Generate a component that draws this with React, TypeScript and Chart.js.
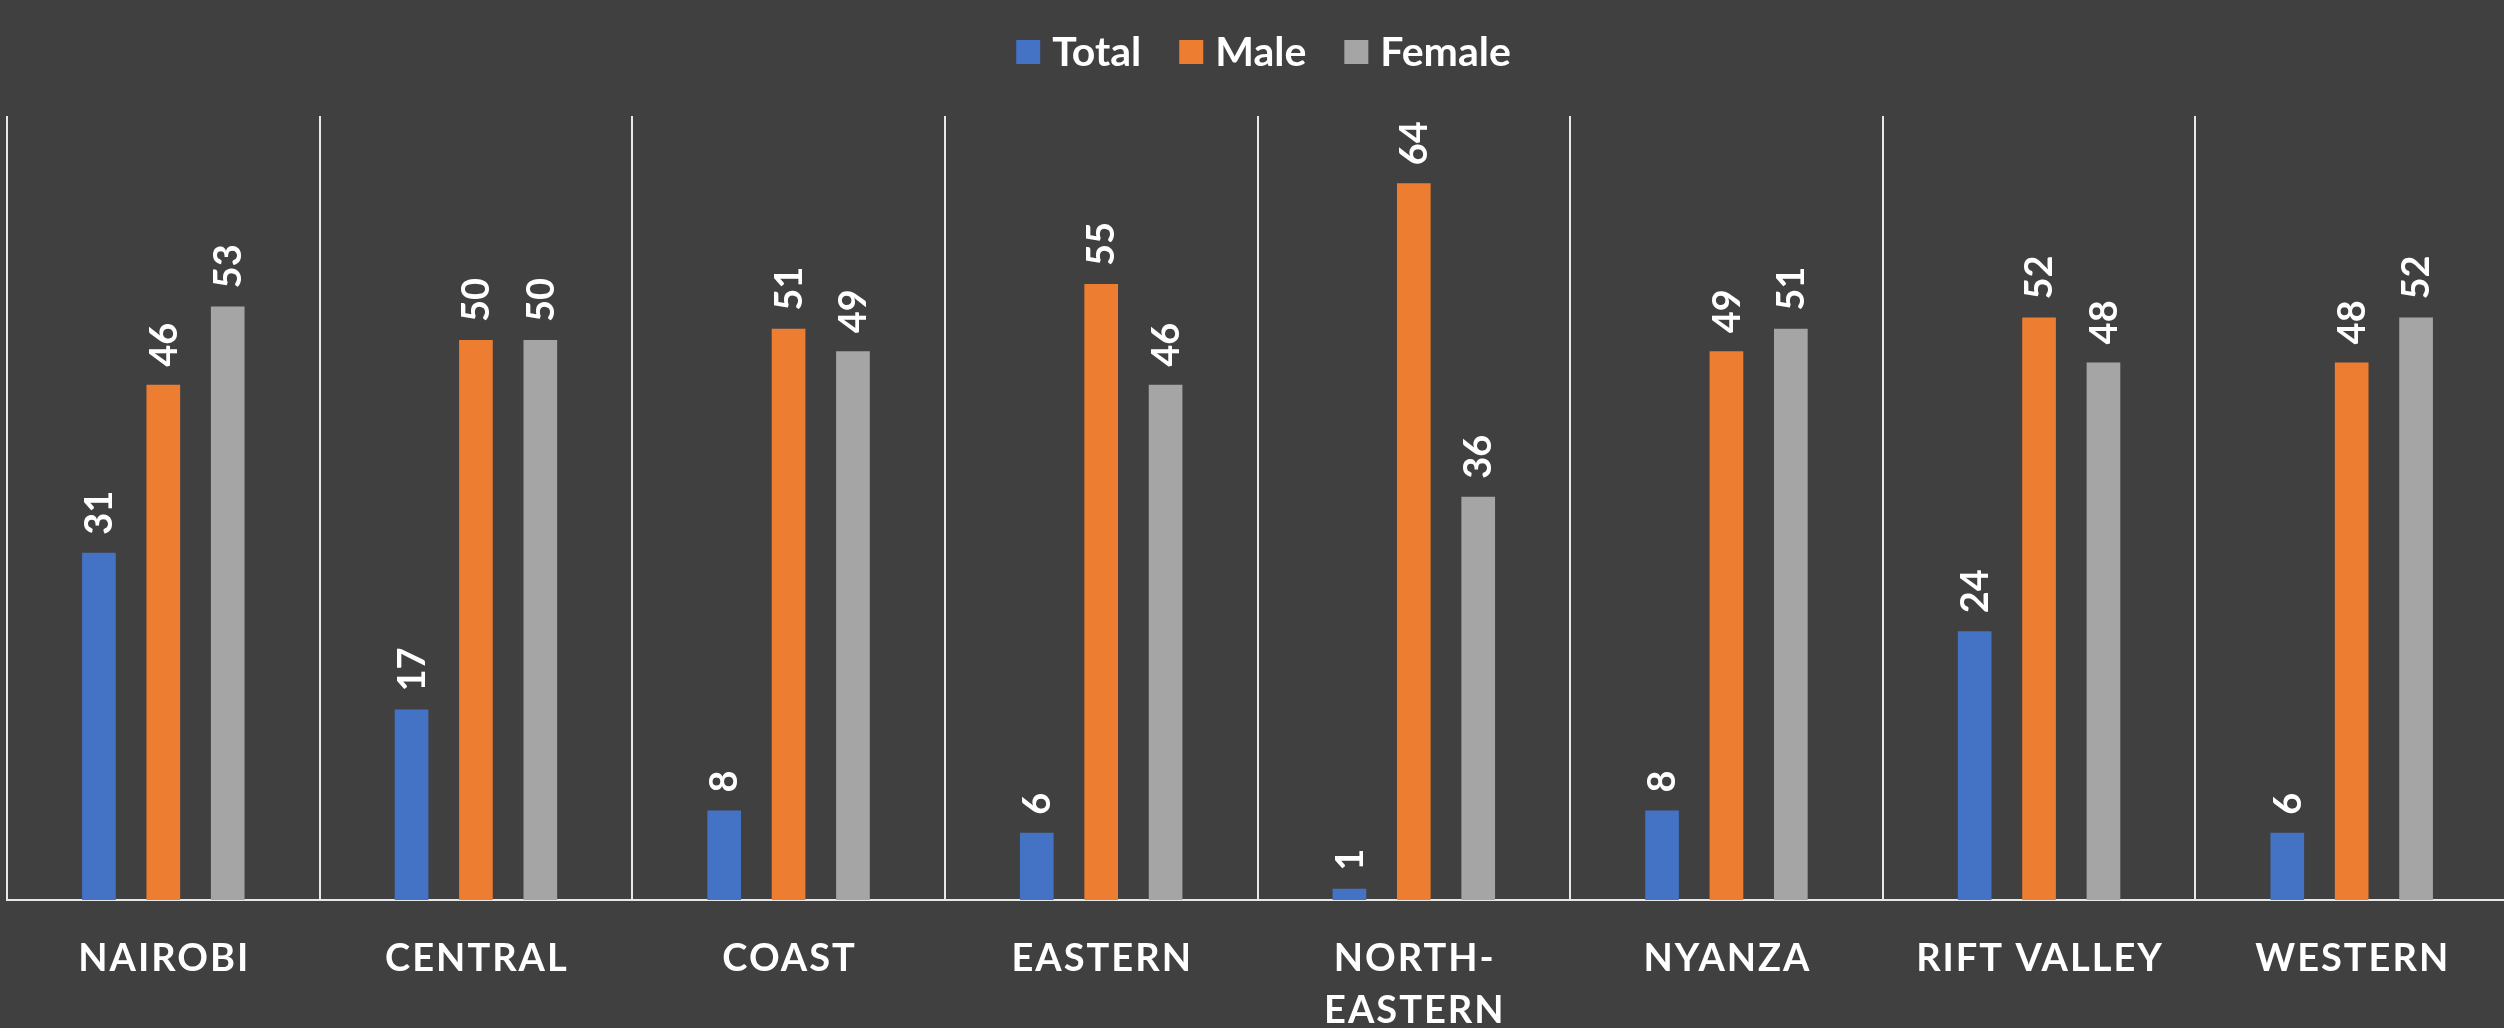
import { useEffect, useRef } from "react";
import { Chart, registerables } from "chart.js";

Chart.register(...registerables);

// Regions (multi-line labels are arrays)
const regions: (string | string[])[] = [
  "NAIROBI",
  "CENTRAL",
  "COAST",
  "EASTERN",
  ["NORTH-", "EASTERN"],
  "NYANZA",
  "RIFT VALLEY",
  "WESTERN",
];

const totalValues = [31, 17, 8, 6, 1, 8, 24, 6];
const maleValues = [46, 50, 51, 55, 64, 49, 52, 48];
const femaleValues = [53, 50, 49, 46, 36, 51, 48, 52];

const seriesNames = ["Total", "Male", "Female"];
const seriesColors = ["#4472C4", "#ED7D31", "#A5A5A5"];

const BG = "#404040";
const FONT = "Lato, 'Open Sans', sans-serif";

// Draws the legend row, rotated value labels and spaced category labels
const overlayPlugin = {
  id: "overlay",
  afterDraw(chart: Chart) {
    const ctx = chart.ctx;
    const area = chart.chartArea;

    // Legend
    ctx.save();
    ctx.font = `bold 41px ${FONT}`;
    ctx.textBaseline = "middle";
    ctx.textAlign = "left";
    const box = 24;
    const boxGap = 12;
    const itemGap = 38;
    const items = chart.data.datasets.map((ds) => ({
      text: String(ds.label),
      color: String(ds.backgroundColor),
      w: ctx.measureText(String(ds.label)).width,
    }));
    const total =
      items.reduce((s, it) => s + box + boxGap + it.w, 0) + itemGap * (items.length - 1);
    let x = (area.left + area.right) / 2 + 6 - total / 2;
    const cy = 52;
    items.forEach((it) => {
      ctx.fillStyle = it.color;
      ctx.fillRect(x, cy - box / 2, box, box);
      x += box + boxGap;
      ctx.fillStyle = "#ffffff";
      ctx.fillText(it.text, x, cy + 1);
      x += it.w + itemGap;
    });
    ctx.restore();

    // Value labels above each bar, rotated
    ctx.save();
    ctx.font = `bold 38px ${FONT}`;
    ctx.fillStyle = "#ffffff";
    ctx.textAlign = "left";
    ctx.textBaseline = "middle";
    chart.data.datasets.forEach((ds, di) => {
      const meta = chart.getDatasetMeta(di);
      meta.data.forEach((el: any, j: number) => {
        const v = (ds.data as number[])[j];
        ctx.save();
        ctx.translate(el.x, el.y - 18);
        ctx.rotate(-Math.PI / 2);
        ctx.fillText(String(v), 0, 1);
        ctx.restore();
      });
    });
    ctx.restore();

    // Category labels with letter spacing
    const xScale = chart.scales.x;
    ctx.save();
    ctx.font = `bold 38px ${FONT}`;
    ctx.fillStyle = "#ffffff";
    ctx.textAlign = "center";
    ctx.textBaseline = "alphabetic";
    const spacing = 2;
    (ctx as any).letterSpacing = `${spacing}px`;
    regions.forEach((lab, j) => {
      const px = xScale.getPixelForValue(j);
      const lines = Array.isArray(lab) ? lab : [lab];
      lines.forEach((line, k) => {
        ctx.fillText(line, px + spacing / 2, 971 + k * 52);
      });
    });
    ctx.restore();
  },
};

export default function App() {
  const canvasRef = useRef<HTMLCanvasElement | null>(null);

  useEffect(() => {
    const canvas = canvasRef.current;
    if (!canvas) return;
    const values = [totalValues, maleValues, femaleValues];
    const chart = new Chart(canvas, {
      type: "bar",
      data: {
        labels: regions,
        datasets: seriesNames.map((name, i) => ({
          label: name,
          data: values[i],
          backgroundColor: seriesColors[i],
          borderWidth: 0,
          categoryPercentage: 0.618,
          barPercentage: 0.523,
        })),
      },
      options: {
        responsive: false,
        animation: false,
        devicePixelRatio: 1,
        layout: { padding: { left: 7, right: 12, top: 116, bottom: 128 } },
        plugins: {
          legend: { display: false },
          tooltip: { enabled: false },
        },
        scales: {
          x: {
            offset: true,
            grid: {
              display: true,
              offset: true,
              color: "#e8e8e8",
              lineWidth: 2,
              drawTicks: false,
            },
            border: { display: true, color: "#e8e8e8", width: 2 },
            ticks: { display: false },
          },
          y: {
            display: false,
            min: 0,
            max: 70,
          },
        },
      },
      plugins: [overlayPlugin],
    });
    return () => chart.destroy();
  }, []);

  return (
    <div
      style={{
        position: "fixed",
        left: 0,
        top: 0,
        width: 2504,
        height: 1028,
        overflow: "hidden",
        background: BG,
      }}
    >
      <canvas
        ref={canvasRef}
        width={2520}
        height={1028}
        style={{ display: "block", width: 2520, height: 1028 }}
      />
    </div>
  );
}
